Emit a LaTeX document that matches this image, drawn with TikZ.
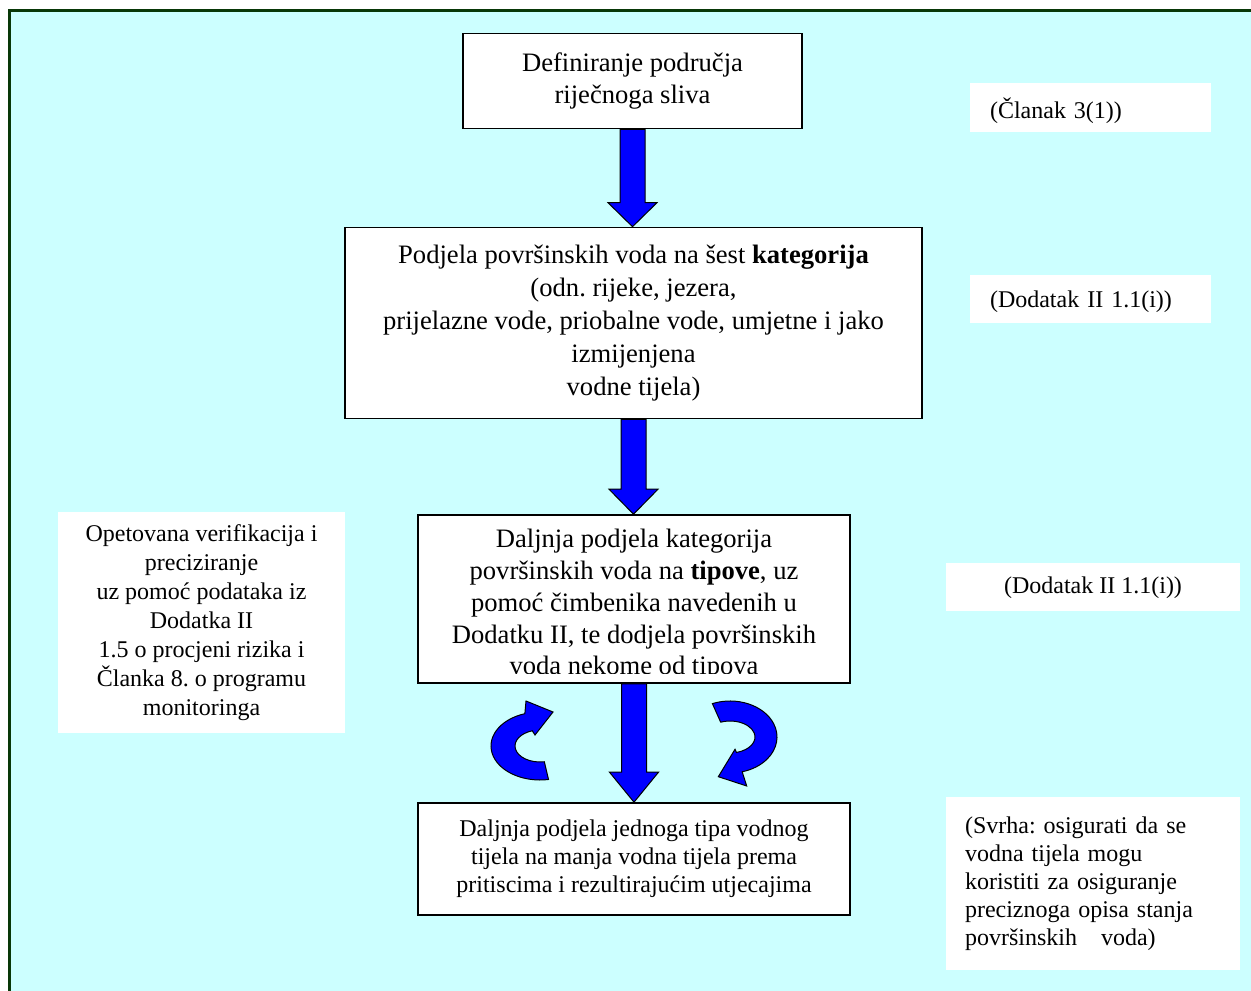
\documentclass[tikz,border=0pt]{standalone}
\usepackage{fontspec}
\setmainfont{Liberation Serif}
\usetikzlibrary{calc}
\frenchspacing

\definecolor{panelcyan}{RGB}{204,255,255}
\definecolor{framegreen}{RGB}{8,56,8}
\definecolor{flowblue}{RGB}{0,0,255}

% straight block arrow pointing down from one box to the next
\newcommand{\flowdownarrow}[3]{%
  \filldraw[blockarrow] let \p1=(#1.south), \p2=(#2.north) in
    (\x1-6.25pt,\y1) -- (\x1-6.25pt,\y2+#3) -- (\x1-12.25pt,\y2+#3) --
    (\x1,\y2) -- (\x1+12.25pt,\y2+#3) -- (\x1+6.25pt,\y2+#3) --
    (\x1+6.25pt,\y1) -- cycle;}
% lower a one-line label without changing its box
\newcommand{\lowerlabel}[2]{\raisebox{-#1}[\height][\depth]{#2}}

\begin{document}
\begin{tikzpicture}[x=0.5pt,y=0.5pt,
  mainfont/.style={font=\fontsize{13.3}{15.9}\selectfont},
  smallfont/.style={font=\fontsize{12}{14}\selectfont},
  flowbox/.style={draw=black, fill=white, line width=0.8pt, align=center,
    inner sep=0pt, mainfont},
  notebox/.style={fill=white, inner sep=0pt, smallfont},
  blockarrow/.style={fill=flowblue, draw=black, line width=0.5pt, line join=miter}]

\useasboundingbox (0,0) rectangle (1251,990);
\clip (0,0) rectangle (1251,990);

% panel
\draw[fill=panelcyan, draw=framegreen, line width=1.5pt] (9,-20) rectangle (1280,979);

% main flow boxes
\node[flowbox, minimum width=169.5pt, minimum height=47.5pt] (b1) at (632.5,909)
  {Definiranje područja\\riječnoga sliva};
\node[flowbox, minimum width=288.5pt, minimum height=95.5pt,
  font=\fontsize{13.3}{16.4}\selectfont] (b2) at (633.5,667)
  {Podjela površinskih voda na šest \textbf{kategorija}\\(odn. rijeke, jezera,\\
   prijelazne vode, priobalne vode, umjetne i jako\\izmijenjena\\vodne tijela)};
\node[flowbox, minimum width=216pt, minimum height=84pt] (b3) at (634,391) {};
\begin{scope}
  \clip (b3.north west) rectangle ([yshift=5pt]b3.south east);
  \node[align=center, mainfont, inner sep=0pt] (b3text) at ([yshift=-3pt]b3.center)
    {Daljnja podjela kategorija\\površinskih voda na \textbf{tipove}, uz\\
     pomoć čimbenika navedenih u\\Dodatku II, te dodjela površinskih\\voda nekome od tipova};
\end{scope}
\node[flowbox, smallfont, minimum width=216pt, minimum height=56pt] (b4) at (634,131)
  {Daljnja podjela jednoga tipa vodnog\\tijela na manja vodna tijela prema\\
   pritiscima i rezultirajućim utjecajima};

% side notes
\node[notebox, align=center, minimum width=143.5pt, minimum height=110.5pt,
  font=\fontsize{12}{14.5}\selectfont] (left) at (201.5,367)
  {Opetovana verifikacija i\\preciziranje\\uz pomoć podataka iz\\Dodatka II\\
   1.5 o procjeni rizika i\\Članka 8. o programu\\monitoringa};
\node[notebox, align=left, text width=100.5pt, inner xsep=10pt, minimum height=24.5pt]
  (r1) at (1090.5,882.5) {\lowerlabel{1.5pt}{(Članak 3(1))}};
\node[notebox, align=left, text width=100.5pt, inner xsep=10pt, minimum height=24pt]
  (r2) at (1090.5,691) {\lowerlabel{1.5pt}{(Dodatak II 1.1(i))}};
\node[notebox, align=center, minimum width=147pt, minimum height=24pt]
  (r3) at (1093,403) {\lowerlabel{0.5pt}{(Dodatak II 1.1(i))}};
\node[notebox, align=left, text width=128pt, inner xsep=9.5pt, minimum height=86.5pt]
  (r4) at (1093,106.5) {(Svrha: osigurati da se\\vodna tijela mogu\\koristiti za osiguranje\\
   preciznoga opisa stanja\\površinskih \ \ voda)};

% straight block arrows between the boxes
\flowdownarrow{b1}{b2}{12pt}
\flowdownarrow{b2}{b3}{12.5pt}
\flowdownarrow{b3}{b4}{15pt}

% curved arrows beside the last step
\coordinate (lc) at (540,244);
\filldraw[blockarrow] (lc) ++(108:24.5pt and 17pt)
  arc[start angle=108, end angle=280, x radius=24.5pt, y radius=17pt]
  -- ($(lc)+(280:12.5pt and 8pt)$)
  arc[start angle=280, end angle=108, x radius=12.5pt, y radius=8pt]
  -- (535,255) -- (553,278) -- (526,289) -- cycle;

\coordinate (rc) at (730,253);
\filldraw[blockarrow] (rc) ++(112:23.5pt and 18pt)
  arc[start angle=112, end angle=-75, x radius=23.5pt, y radius=18pt]
  -- (746.7,204) -- (718.3,213.3) -- (735,240.7)
  -- ($(rc)+(-75:12.5pt and 8pt)$)
  arc[start angle=-75, end angle=112, x radius=12.5pt, y radius=8pt] -- cycle;

\end{tikzpicture}
\end{document}
